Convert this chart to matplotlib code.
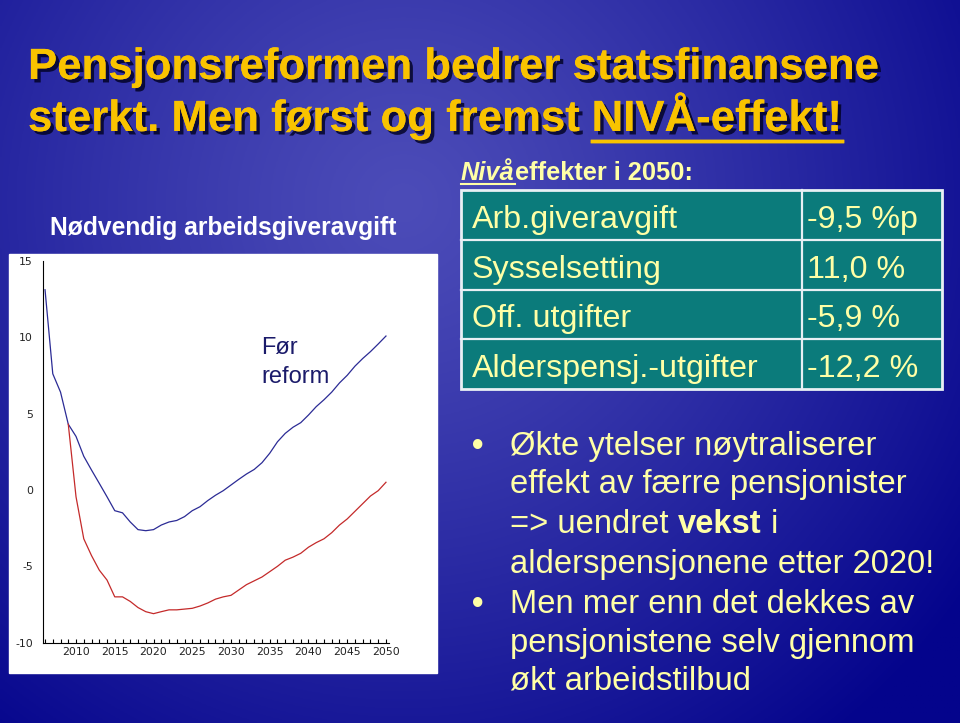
import numpy as np
import matplotlib

matplotlib.use("Agg")
import matplotlib.pyplot as plt
from matplotlib import patheffects
from matplotlib.patches import Rectangle
from matplotlib.lines import Line2D

W, H = 960, 723

# chart data
years_before = list(range(2006, 2051))
before_reform = [13.1, 7.6, 6.4, 4.3, 3.5, 2.2, 1.3, 0.43, -0.45, -1.36,
                 -1.5, -2.1, -2.6, -2.67, -2.6, -2.3, -2.1, -2.0, -1.75, -1.36,
                 -1.1, -0.7, -0.35, -0.05, 0.32, 0.69, 1.04, 1.34, 1.78, 2.4,
                 3.15, 3.7, 4.1, 4.4, 4.9, 5.45, 5.9, 6.4, 7.0, 7.5,
                 8.1, 8.6, 9.05, 9.55, 10.07]
years_after = list(range(2009, 2051))
after_reform = [4.3, -0.45, -3.2, -4.3, -5.25, -5.9, -7.0, -7.0, -7.3, -7.7,
                -7.97, -8.1, -7.97, -7.85, -7.85, -7.8, -7.75, -7.6, -7.4, -7.15,
                -7.0, -6.9, -6.55, -6.2, -5.95, -5.7, -5.35, -5.0, -4.6, -4.4,
                -4.15, -3.75, -3.45, -3.2, -2.8, -2.3, -1.9, -1.4, -0.9, -0.4,
                -0.05, 0.5]
y_ticks = [15, 10, 5, 0, -5, -10]
x_ticks = list(range(2010, 2051, 5))

# table and text
table_labels = ["Arb.giveravgift", "Sysselsetting", "Off. utgifter", "Alderspensj.-utgifter"]
table_values = ["-9,5 %p", "11,0 %", "-5,9 %", "-12,2 %"]
bullet_lines = [
    [("•", "b")], [("Økte ytelser nøytraliserer", "n")],
    [("effekt av færre pensjonister", "n")],
    [("=> uendret", "n"), ("vekst", "b"), ("i", "n")],
    [("alderspensjonene etter 2020!", "n")],
    [("•", "b")], [("Men mer enn det dekkes av", "n")],
    [("pensjonistene selv gjennom", "n")],
    [("økt arbeidstilbud", "n")],
]

FONT = "Liberation Sans"
YELLOW = "#f9c300"
PALE = "#ffffa6"

plt.rcParams["axes.unicode_minus"] = False


def fx(x):
    return x / W


def fy(y):
    return 1 - y / H


def text_width(fig, r, s, **kw):
    t = fig.text(0, 0, s, **kw)
    w = t.get_window_extent(r).width
    t.remove()
    return w


def put_words(fig, r, x, y, words, size, color, space_weight="normal", **kw):
    base = dict(family=FONT, size=size, color=color)
    space = (text_width(fig, r, "x x", weight=space_weight, **base)
             - text_width(fig, r, "xx", weight=space_weight, **base))
    out = []
    for word, wt in words:
        t = fig.text(fx(x), fy(y), word, va="baseline", ha="left",
                     weight="bold" if wt == "b" else "normal", **base, **kw)
        out.append(t)
        x += t.get_window_extent(r).width + space
    return out


def main():
    fig = plt.figure(figsize=(W / 100, H / 100), dpi=100)
    r = fig.canvas.get_renderer()

    # slide background
    bg = fig.add_axes([0, 0, 1, 1], zorder=-10)
    yy, xx = np.mgrid[0:1:300j, 0:1:400j]
    rad = np.sqrt(((xx - 0.42) / 0.72) ** 2 + ((yy - 0.28) / 0.95) ** 2)
    t = np.clip(rad, 0, 1)[..., None] ** 1.2
    light = np.array([0x4c, 0x4c, 0xb8]) / 255
    dark = np.array([0x04, 0x04, 0x8c]) / 255
    bg.imshow(light + (dark - light) * t, extent=[0, 1, 0, 1], aspect="auto", origin="upper")
    bg.axis("off")

    # title
    shadow = [patheffects.withSimplePatchShadow(offset=(2.5, -2.5), shadow_rgbFace="#000020", alpha=0.8),
              patheffects.Normal()]
    put_words(fig, r, 28, 79, [("Pensjonsreformen bedrer statsfinansene", "b")], 31.5, YELLOW,
              space_weight="bold", path_effects=shadow)
    line2 = put_words(fig, r, 28, 131, [("sterkt. Men først og fremst", "b"), ("NIVÅ-effekt!", "b")],
                      31.5, YELLOW, space_weight="bold", path_effects=shadow)
    bb = line2[-1].get_window_extent(r)
    fig.add_artist(Line2D([bb.x0 / W, bb.x1 / W], [fy(141), fy(141)], color=YELLOW, lw=2.5,
                          path_effects=shadow))

    # chart panel
    fig.add_artist(Rectangle((fx(9), fy(673)), (437 - 9) / W, (673 - 254) / H,
                             transform=fig.transFigure, color="white", zorder=0))
    fig.text(fx(223), fy(235), "Nødvendig arbeidsgiveravgift", family=FONT, size=17.7,
             weight="bold", color="white", ha="center", va="baseline")

    ax = fig.add_axes([fx(42.7), fy(642.7), (389.3 - 42.7) / W, (642.7 - 260.7) / H])
    ax.plot(years_before, before_reform, color="#2b2b95", lw=0.9)
    ax.plot(years_after, after_reform, color="#c42a2a", lw=0.9)
    ax.set_xlim(2005.7, 2050.43)
    ax.set_ylim(-10, 15)
    ax.set_yticks(y_ticks)
    ax.set_xticks(x_ticks)
    ax.set_xticks(range(2006, 2051), minor=True)
    ax.set_facecolor("white")
    for s in ("top", "right"):
        ax.spines[s].set_visible(False)
    for s in ("left", "bottom"):
        ax.spines[s].set_linewidth(0.8)
    ax.tick_params(axis="x", which="both", direction="in", length=3, width=0.8,
                   labelsize=7.8, labelcolor="#222222", pad=3)
    ax.tick_params(axis="y", length=0, labelsize=7.8, labelcolor="#222222", pad=7)
    ax.text(2033.9, 7.0, "Før\nreform", family=FONT, size=17, color="#1b1b6a",
            va="baseline", linespacing=1.4)

    # level-effect table
    put_words(fig, r, 461, 180, [("Nivå", "b")], 18.3, PALE, style="italic")
    niva = fig.texts[-1].get_window_extent(r)
    fig.add_artist(Line2D([niva.x0 / W, niva.x1 / W], [fy(184), fy(184)], color=PALE, lw=1.5))
    fig.text(niva.x1 / W, fy(180), "effekter i 2050:", family=FONT, size=18.3, weight="bold",
             color=PALE, va="baseline")

    top, bot, left, right, mid = 190, 389, 461, 942, 802
    fig.add_artist(Rectangle((fx(left), fy(bot)), (right - left) / W, (bot - top) / H,
                             transform=fig.transFigure, facecolor="#0b7b7b",
                             edgecolor="#e8f0f4", lw=2))
    rows = np.linspace(top, bot, len(table_labels) + 1)
    for yb in rows[1:-1]:
        fig.add_artist(Line2D([fx(left), fx(right)], [fy(yb), fy(yb)], color="#e8f0f4", lw=1.6))
    fig.add_artist(Line2D([fx(mid), fx(mid)], [fy(top), fy(bot)], color="#e8f0f4", lw=1.6))
    for i, (lab, val) in enumerate(zip(table_labels, table_values)):
        yb = rows[i] + 38
        fig.text(fx(472), fy(yb), lab, family=FONT, size=23.2, color=PALE, va="baseline")
        fig.text(fx(807), fy(yb), val, family=FONT, size=23.2, color=PALE, va="baseline")

    # bullets
    baselines = [455, 455, 493, 533, 573, 613, 613, 652, 690]
    xs = [472, 510, 510, 510, 510, 472, 510, 510, 510]
    for words, x, yb in zip(bullet_lines, xs, baselines):
        put_words(fig, r, x, yb, words, 23.6, PALE)

    fig.savefig("out.png", dpi=100)


if __name__ == "__main__":
    main()
